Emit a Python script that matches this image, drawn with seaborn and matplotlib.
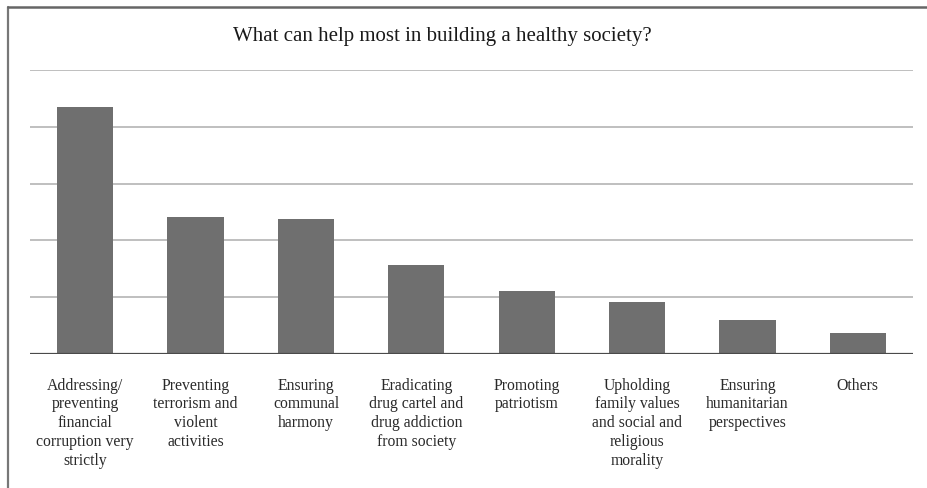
import matplotlib
matplotlib.use("Agg")
import matplotlib.pyplot as plt
from matplotlib.lines import Line2D
import seaborn as sns
import pandas as pd

categories = [
    "Addressing/\npreventing\nfinancial\ncorruption very\nstrictly",
    "Preventing\nterrorism and\nviolent\nactivities",
    "Ensuring\ncommunal\nharmony",
    "Eradicating\ndrug cartel and\ndrug addiction\nfrom society",
    "Promoting\npatriotism",
    "Upholding\nfamily values\nand social and\nreligious\nmorality",
    "Ensuring\nhumanitarian\nperspectives",
    "Others",
]
values = [43.5, 24.2, 23.7, 15.6, 11.1, 9.1, 6.0, 3.7]
gridlines = [10, 20, 30, 40, 50]

df = pd.DataFrame({"option": categories, "share": values})

sns.set_theme(style="white")
plt.rcParams["font.family"] = ["Liberation Serif", "DejaVu Serif"]

fig = plt.figure(figsize=(9.27, 4.88), dpi=100)
ax = fig.add_axes([30 / 927, 1 - 354 / 488, 883 / 927, 284 / 488])

sns.barplot(data=df, x="option", y="share", color="#6f6f6f", width=0.51,
            saturation=1, linewidth=0, ax=ax, zorder=3)

ax.set_ylim(0, 50)
ax.set_xlim(-0.5, len(categories) - 0.5)
for g in gridlines:
    ax.axhline(g, color="#b4b4b4", lw=1.2, zorder=1)
ax.axhline(0, color="#4a4a4a", lw=1.6, zorder=4)

for s in ax.spines.values():
    s.set_visible(False)
ax.set_yticks([])
ax.set_xlabel("")
ax.set_ylabel("")
ax.tick_params(axis="x", length=0, pad=17)
for lbl in ax.get_xticklabels():
    lbl.set_fontsize(11.3)
    lbl.set_color("#2a2a2a")
    lbl.set_verticalalignment("top")
    lbl.set_linespacing(1.24)

fig.text(0.477, 1 - 37 / 488, "What can help most in building a healthy society?",
         ha="center", va="center", fontsize=15, color="#1a1a1a")

# outer frame (left and top edges)
fig.add_artist(Line2D([8 / 927, 8 / 927], [0, 1 - 7 / 488], transform=fig.transFigure,
                      color="#777777", lw=1.6))
fig.add_artist(Line2D([8 / 927, 1], [1 - 7 / 488, 1 - 7 / 488], transform=fig.transFigure,
                      color="#666666", lw=1.8))

fig.savefig("out.png", dpi=100, facecolor="white")
